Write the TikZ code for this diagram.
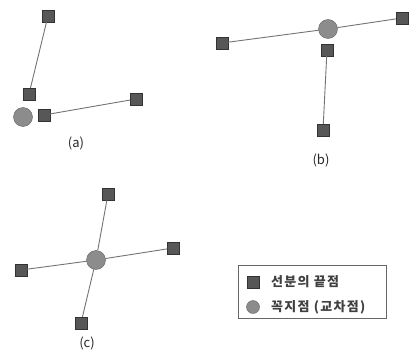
\documentclass[tikz,border=0pt]{standalone}
\usepackage{fontspec}
\setmainfont{Noto Sans CJK KR}
\newfontfamily\legfont[LetterSpace=10]{Noto Sans CJK KR}
\begin{document}
\begin{tikzpicture}[x=1pt,y=-1pt,
  endpt/.style={draw=black!80,fill=black!66,minimum size=12pt,inner sep=0pt,outer sep=0pt,rectangle},
  vert/.style={draw=black!62,fill=black!45,circle,minimum size=19pt,inner sep=0pt,outer sep=0pt},
  seg/.style={draw=black!55,line width=0.9pt},
  lbl/.style={font=\fontsize{13}{15}\selectfont,text=black!85},
  legtxt/.style={font=\legfont\bfseries\fontsize{13}{15}\selectfont,text=black!75,anchor=west,inner sep=0pt}]
\useasboundingbox (0,0) rectangle (409,356);
% (a)
\node[endpt] (a1) at (48,16) {};
\node[endpt] (a2) at (29,94) {};
\node[vert] (av) at (23,117) {};
\node[endpt] (a3) at (44,115) {};
\node[endpt] (a4) at (136,99) {};
\draw[seg] (a1) -- (a2);
\draw[seg] (a3) -- (a4);
\node[lbl] (al) at (76,143) {(a)};
% (b)
\node[endpt] (b1) at (222,43) {};
\node[vert] (bv) at (328,29) {};
\node[endpt] (b2) at (402,18) {};
\node[endpt] (b3) at (327,50) {};
\node[endpt] (b4) at (323,130) {};
\draw[seg] (b1) -- (bv);
\draw[seg] (bv) -- (b2);
\draw[seg] (b3) -- (b4);
\node[lbl] (bl) at (321,160) {(b)};
% (c)
\node[vert] (cv) at (96,260) {};
\node[endpt] (c1) at (108,194) {};
\node[endpt] (c2) at (173,248) {};
\node[endpt] (c3) at (21,270) {};
\node[endpt] (c4) at (81,323) {};
\draw[seg] (cv) -- (c1);
\draw[seg] (cv) -- (c2);
\draw[seg] (cv) -- (c3);
\draw[seg] (cv) -- (c4);
\node[lbl] (cl) at (87,343) {(c)};
% legend
\node[draw=black!60,line width=0.6pt,minimum width=148pt,minimum height=53pt,inner sep=0pt] (leg) at (312,291.5) {};
\node[endpt] (ls) at (253,282) {};
\node[vert,minimum size=13pt] (lc) at (253,307) {};
\node[legtxt] (lt1) at (271,282) {선분의 끝점};
\node[legtxt] (lt2) at (271,307) {꼭지점 (교차점)};
\end{tikzpicture}
\end{document}
